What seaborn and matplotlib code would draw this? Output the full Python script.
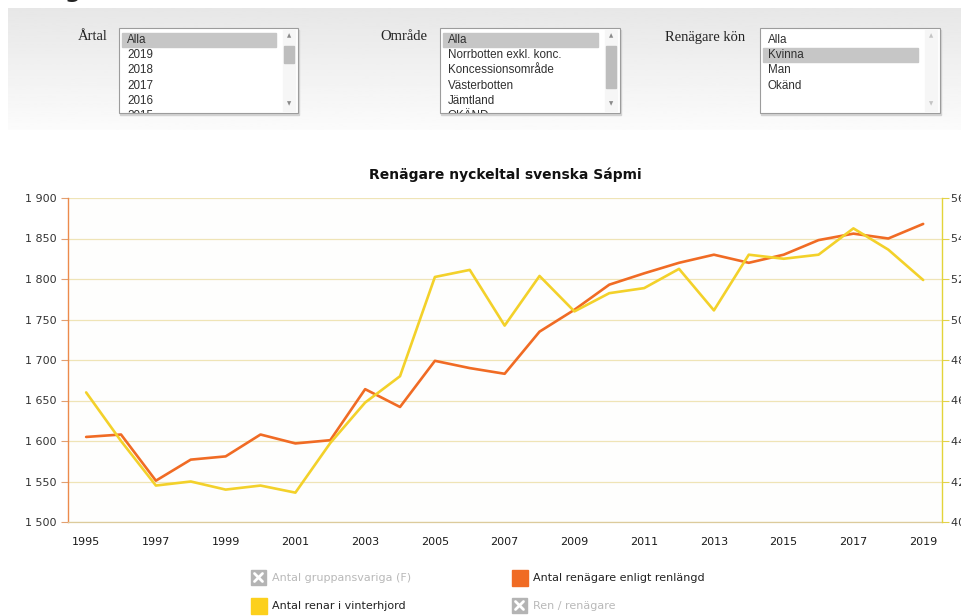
import numpy as np
import matplotlib
matplotlib.use('Agg')
import matplotlib.pyplot as plt
import seaborn as sns
from matplotlib.patches import Rectangle
from matplotlib.ticker import FuncFormatter

# Data
years = list(range(1995, 2020))
renagare_renlangd = [1605, 1608, 1551, 1577, 1581, 1608, 1597, 1601, 1664, 1642,
                     1699, 1690, 1683, 1735, 1762, 1793, 1807, 1820, 1830, 1820,
                     1830, 1848, 1856, 1850, 1868]
renar_vinterhjord = [46400, 44000, 41800, 42000, 41600, 41800, 41450, 43900, 45900, 47200,
                     52100, 52450, 49700, 52150, 50400, 51300, 51550, 52500, 50450, 53200,
                     53000, 53200, 54500, 53450, 51950]
xtick_years = list(range(1995, 2020, 2))
left_ticks = list(range(1500, 1901, 50))
right_ticks = list(range(40000, 56001, 2000))

artal_items = ['Alla', '2019', '2018', '2017', '2016', '2015']
omrade_items = ['Alla', 'Norrbotten exkl. konc.', 'Koncessionsområde', 'Västerbotten', 'Jämtland', 'OKÄND']
kon_items = ['Alla', 'Kvinna', 'Man', 'Okänd']
legend_labels = ['Antal gruppansvariga (F)', 'Antal renägare enligt renlängd',
                 'Antal renar i vinterhjord', 'Ren / renägare']

ORANGE = '#f06b24'
YELLOW = '#f3d12a'

sns.set_theme(style='white')
plt.rcParams['font.family'] = ['DejaVu Sans']

W, H = 962, 616
fig = plt.figure(figsize=(W / 100, H / 100), dpi=100)
fig.patch.set_facecolor('white')

# page layer in pixel coordinates (filter panel, legend)
page = fig.add_axes([0, 0, 1, 1], zorder=0)
grad = np.linspace(0.905, 0.985, 60)[:, None]
page.imshow(grad, extent=[8, W, 130, 8], cmap='gray', vmin=0, vmax=1, aspect='auto', zorder=0)
page.set_xlim(0, W)
page.set_ylim(H, 0)
page.axis('off')

# cut-off page heading at the very top
page.text(2, -2.5, 'Renägare', fontsize=16, fontweight='bold', color='#222', va='baseline')


def thousands(v, pos=None):
    return f'{int(v):,}'.replace(',', ' ')


def listbox(x0, y0, w, h, items, selected, thumb=None):
    page.add_patch(Rectangle((x0 + 1.5, y0 + 1.5), w, h, color='#d2d2d2', zorder=1))
    box = Rectangle((x0, y0), w, h, facecolor='white', edgecolor='#9c9c9c', lw=0.8, zorder=2)
    page.add_patch(box)
    page.add_patch(Rectangle((x0 + 3, y0 + 5 + selected * 15), w - 25, 14, color='#c6c6c6', zorder=3))
    for i, it in enumerate(items):
        t = page.text(x0 + 8, y0 + 12 + i * 15.2, it, fontsize=8.4, family='Liberation Sans',
                      color='#303030', va='center', zorder=4)
        t.set_clip_path(box)
        t.set_clip_on(True)
    # scrollbar
    sx = x0 + w - 15
    page.add_patch(Rectangle((sx, y0 + 2), 12, h - 4, color='#f6f6f6', zorder=3))
    arrow_col = '#8a8a8a' if thumb else '#c4c4c4'
    page.text(sx + 6, y0 + 8, '▲', fontsize=4, color=arrow_col, ha='center', va='center', zorder=4)
    page.text(sx + 6, y0 + h - 9, '▼', fontsize=4, color=arrow_col, ha='center', va='center', zorder=4)
    if thumb:
        page.add_patch(Rectangle((sx + 1, thumb[0]), 10, thumb[1] - thumb[0], color='#bdbdbd', zorder=4))


for lbl, lx in [('Årtal', 78), ('Område', 380), ('Renägare kön', 665)]:
    page.text(lx, 37, lbl, fontsize=10.5, family='Liberation Serif', color='#222', va='center')

listbox(119, 28, 179, 85, artal_items, 0, (46, 63))
listbox(440, 28, 180, 85, omrade_items, 0, (46, 88))
listbox(760, 28, 180, 85, kon_items, 1)

# title
page.text(505, 175, 'Renägare nyckeltal svenska Sápmi', fontsize=10, fontweight='bold',
          color='#111', ha='center', va='center')

# legend
def grey_icon(x, y):
    page.add_patch(Rectangle((x, y), 15, 15, color='#b4b4b4', zorder=2))
    page.plot([x + 3.5, x + 11.5], [y + 3.5, y + 11.5], color='white', lw=2, zorder=3)
    page.plot([x + 3.5, x + 11.5], [y + 11.5, y + 3.5], color='white', lw=2, zorder=3)


grey_icon(251, 570)
page.text(272, 578, legend_labels[0], fontsize=8, color='#b9b9b9', va='center')
page.add_patch(Rectangle((512, 570), 16, 16, color=ORANGE, zorder=2))
page.text(533, 578, legend_labels[1], fontsize=8, color='#222', va='center')
page.add_patch(Rectangle((251, 598), 16, 16, color='#fcd01c', zorder=2))
page.text(272, 606, legend_labels[2], fontsize=8, color='#222', va='center')
grey_icon(512, 598)
page.text(533, 606, legend_labels[3], fontsize=8, color='#b9b9b9', va='center')

# chart
ax = fig.add_axes([68 / W, (H - 522) / H, (942 - 68) / W, 324 / H], zorder=1)
ax.set_facecolor('#fefefd')
sns.lineplot(x=years, y=renagare_renlangd, ax=ax, color=ORANGE, lw=1.9, legend=False)
ax.lines[0].set_solid_joinstyle('round')
ax.set_xlim(1994.48, 2019.54)
ax.set_ylim(1500, 1900)
ax.set_xticks(xtick_years)
ax.set_yticks(left_ticks)
ax.yaxis.set_major_formatter(FuncFormatter(thousands))
ax.grid(axis='y', color='#efe4b6', lw=0.9)
ax.set_axisbelow(True)
ax.set_xlabel('')
ax.set_ylabel('')
ax.tick_params(axis='x', length=0, pad=11, labelsize=8, labelcolor='#1a1a1a')
ax.tick_params(axis='y', left=True, length=5, width=0.8, color='#e2a070', pad=3,
               labelsize=8, labelcolor='#333')
for s in ['top', 'right']:
    ax.spines[s].set_visible(False)
ax.spines['left'].set_color('#ec8a4c')
ax.spines['left'].set_linewidth(1.0)
ax.spines['bottom'].set_color('#dccb9c')
ax.spines['bottom'].set_linewidth(0.9)

ax2 = ax.twinx()
sns.lineplot(x=years, y=renar_vinterhjord, ax=ax2, color=YELLOW, lw=1.9, legend=False)
ax2.lines[0].set_solid_joinstyle('round')
ax2.set_ylim(40000, 56000)
ax2.set_yticks(right_ticks)
ax2.yaxis.set_major_formatter(FuncFormatter(thousands))
ax2.grid(False)
ax2.set_ylabel('')
ax2.tick_params(axis='y', right=True, length=5, width=0.8, color='#e3d24a', pad=1.5,
                labelsize=8, labelcolor='#333')
for s in ['top', 'left', 'bottom']:
    ax2.spines[s].set_visible(False)
ax2.spines['right'].set_color('#e3d43a')
ax2.spines['right'].set_linewidth(1.0)

fig.savefig('out.png', dpi=100)
